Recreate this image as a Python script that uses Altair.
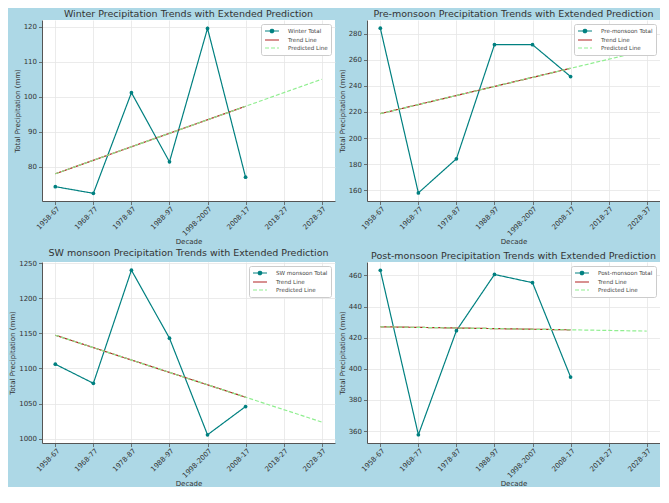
import altair as alt
import pandas as pd

decades = ["1958-67", "1968-77", "1978-87", "1988-97", "1998-2007", "2008-17", "2018-27", "2028-37"]
observed_idx = [0, 1, 2, 3, 4, 5]

seasons = ["Winter", "Pre-monsoon", "SW monsoon", "Post-monsoon"]
winter = [74.3, 72.4, 101.2, 81.4, 119.6, 77.0]
pre_monsoon = [284.1, 158.0, 184.1, 271.5, 271.5, 247.1]
sw_monsoon = [1106.0, 1078.8, 1240.0, 1143.1, 1005.4, 1045.7]
post_monsoon = [463.3, 357.6, 424.5, 460.6, 455.3, 394.7]

y_domains = [[70.2, 122.0], [151.8, 290.4], [993.7, 1251.7], [352.3, 468.6]]
y_ticks = [
    [80, 90, 100, 110, 120],
    [160, 180, 200, 220, 240, 260, 280],
    [1000, 1050, 1100, 1150, 1200, 1250],
    [360, 380, 400, 420, 440, 460],
]

TEAL = "#008080"
RED = "#b22222"
GREEN = "#90ee90"
FONT = "DejaVu Sans"
LINE_PATH = "M-2.33,0H2.33"
MARKER_PATH = "M-2.33,0H2.33M0.58,0A0.58,0.58,0,1,1,-0.58,0A0.58,0.58,0,1,1,0.58,0"

label_expr = "[" + ",".join(f"'{d}'" for d in decades) + "][datum.value]"

PW, PH = 293, 181


def panel(season, values, ydom, yticks):
    total = f"{season} Total"
    df = pd.DataFrame({"idx": observed_idx, "value": values, "series": [total] * len(values)})
    domain = [total, "Trend Line", "Predicted Line"]
    leg = alt.Legend(
        title=None,
        orient="top-right",
        offset=4,
        fillColor="white",
        strokeColor="#cccccc",
        cornerRadius=2,
        padding=3,
        labelFont=FONT,
        labelFontSize=5.6,
        labelColor="#444444",
        labelOffset=12,
        symbolSize=36,
        symbolOffset=4,
        symbolStrokeWidth=1.2,
        rowPadding=0,
        symbolType=alt.ExprRef(f"datum.value == '{total}' ? '{MARKER_PATH}' : '{LINE_PATH}'"),
        symbolFillColor=alt.ExprRef(f"datum.value == '{total}' ? '{TEAL}' : 'transparent'"),
    )
    color = alt.Color("series:N", scale=alt.Scale(domain=domain, range=[TEAL, RED, GREEN]), legend=leg)
    dash = alt.StrokeDash("series:N", scale=alt.Scale(domain=domain, range=[[1, 0], [1, 0], [4, 2]]), legend=leg)
    x = alt.X(
        "idx:Q",
        scale=alt.Scale(domain=[-0.35, 7.35], nice=False, zero=False),
        axis=alt.Axis(values=list(range(len(decades))), labelExpr=label_expr, title="Decade",
                      labelAngle=315, labelPadding=0, titlePadding=1),
    )
    y = alt.Y(
        "value:Q",
        scale=alt.Scale(domain=ydom, nice=False, zero=False),
        axis=alt.Axis(values=yticks, format="d", title="Total Precipitation (mm)", labelPadding=2, titlePadding=3),
    )
    base = alt.Chart(df)
    obs = base.mark_line(strokeWidth=1.2).encode(x=x, y=y, color=color, strokeDash=dash)
    pts = base.mark_circle(size=14, color=TEAL, opacity=1).encode(x=x, y=y)
    trend = (
        base.transform_regression("idx", "value")
        .transform_calculate(series="'Trend Line'")
        .mark_line(strokeWidth=1.2)
        .encode(x=x, y=y, color=color, strokeDash=dash)
    )
    pred = (
        base.transform_regression("idx", "value", extent=[0, len(decades) - 1])
        .transform_calculate(series="'Predicted Line'")
        .mark_line(strokeWidth=1.2)
        .encode(x=x, y=y, color=color, strokeDash=dash)
    )
    return alt.layer(obs, pts, trend, pred).properties(
        width=PW,
        height=PH,
        title=alt.TitleParams(
            f"{season} Precipitation Trends with Extended Prediction",
            fontSize=9.5, font=FONT, fontWeight="normal", color="#333333", offset=2, anchor="middle",
        ),
    )


all_values = [winter, pre_monsoon, sw_monsoon, post_monsoon]
panels = [panel(s, v, d, t) for s, v, d, t in zip(seasons, all_values, y_domains, y_ticks)]

chart = (
    alt.concat(*panels, columns=2, spacing={"row": 61, "column": 32}, bounds="flush")
    .resolve_scale(color="independent", strokeDash="independent", x="independent", y="independent")
    .configure(background="#add8e6", padding=0, font=FONT)
    .configure_view(fill="white", strokeWidth=0)
    .configure_axis(
        labelFont=FONT, labelFontSize=7, labelColor="#333333",
        titleFont=FONT, titleFontSize=7, titleColor="#333333", titleFontWeight="normal",
        domainColor="#555555", domainWidth=1, tickColor="#555555", tickSize=3.5, tickWidth=0.8,
        gridColor="#e6e6e6", gridWidth=0.8,
    )
)

chart.save("out.html", embed_options={"renderer": "svg", "actions": False})
